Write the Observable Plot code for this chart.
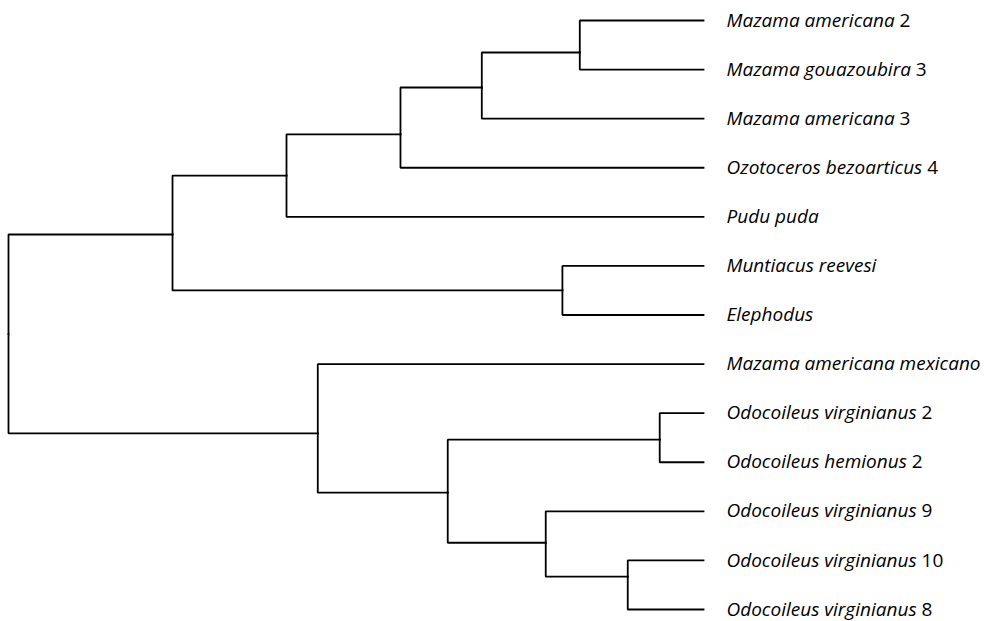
<!DOCTYPE html>
<html>
<head>
<meta charset="utf-8">
<script src="https://cdn.jsdelivr.net/npm/d3@7"></script>
<script src="https://cdn.jsdelivr.net/npm/@observablehq/plot@0.6"></script>
<style>
  html, body { margin: 0; padding: 0; background: #fff; }
  #chart svg { display: block; }
</style>
</head>
<body>
<div id="chart"></div>
<script>
// Leaves (top to bottom) and the clade each one hangs from
const leafLabels = [
  "Mazama americana 2",
  "Mazama gouazoubira 3",
  "Mazama americana 3",
  "Ozotoceros bezoarticus 4",
  "Pudu puda",
  "Muntiacus reevesi",
  "Elephodus",
  "Mazama americana mexicano",
  "Odocoileus virginianus 2",
  "Odocoileus hemionus 2",
  "Odocoileus virginianus 9",
  "Odocoileus virginianus 10",
  "Odocoileus virginianus 8"
];
const leafParents = ["E", "E", "D", "C", "B", "F", "F", "G", "I", "I", "J", "K", "K"];
const tipDepth = 100;

// Internal nodes: id, parent, depth from root, vertical position (in leaf rows)
const cladeIds     = ["root", "A",  "B",  "C",  "D",  "E",  "F",  "G",  "H",  "I",  "J",   "K"];
const cladeParents = [null,   "root","A", "B",  "C",  "D",  "A",  "root","G", "H",  "H",   "J"];
const cladeDepths  = [0,      23.6, 40.0, 56.4, 68.1, 82.2, 79.7, 44.5, 63.2, 93.7, 77.3,  89.1];
const cladeRows    = [6.39,   4.36, 3.16, 2.32, 1.365,0.652,5.50, 8.41, 9.62, 8.54, 10.64, 11.33];

// Build node table
const nodes = new Map();
cladeIds.forEach((id, i) => nodes.set(id, {id, parent: cladeParents[i], depth: cladeDepths[i], row: cladeRows[i]}));
const leaves = leafLabels.map((label, i) => ({id: label, label, parent: leafParents[i], depth: tipDepth, row: i}));
leaves.forEach(l => nodes.set(l.id, l));

// Elbow edges: parent attach point -> corner -> child
const edgePoints = [];
for (const n of nodes.values()) {
  if (!n.parent) continue;
  const p = nodes.get(n.parent);
  edgePoints.push({edge: n.id, x: p.depth, y: p.row});
  edgePoints.push({edge: n.id, x: p.depth, y: n.row});
  edgePoints.push({edge: n.id, x: n.depth, y: n.row});
}

const fontFamily = "'Open Sans', sans-serif";

const chart = Plot.plot({
  width: 984,
  height: 621,
  marginLeft: 8,
  marginRight: 281,
  marginTop: 20,
  marginBottom: 12,
  x: {domain: [0, tipDepth], axis: null},
  y: {domain: [0, leafLabels.length - 1], reverse: true, axis: null},
  style: {background: "#fff", fontFamily},
  marks: [
    Plot.line(edgePoints, {x: "x", y: "y", z: "edge", stroke: "#000", strokeWidth: 1.8, strokeLinejoin: "miter", strokeLinecap: "square"}),
    Plot.text(leaves, {x: "depth", y: "row", text: "label", textAnchor: "start", dx: 23, fontSize: 19, fontFamily, fill: "#000"})
  ]
});

// Italic genus/species, upright trailing number
d3.select(chart).selectAll('g[aria-label="text"] text').each(function () {
  const s = this.textContent;
  const m = s.match(/^(.*?)(\s+\d+)$/);
  const t = d3.select(this);
  t.text(null);
  t.append("tspan").attr("font-style", "italic").text(m ? m[1] : s);
  if (m) t.append("tspan").attr("font-style", "normal").text(m[2]);
});

document.getElementById("chart").appendChild(chart);
</script>
</body>
</html>
